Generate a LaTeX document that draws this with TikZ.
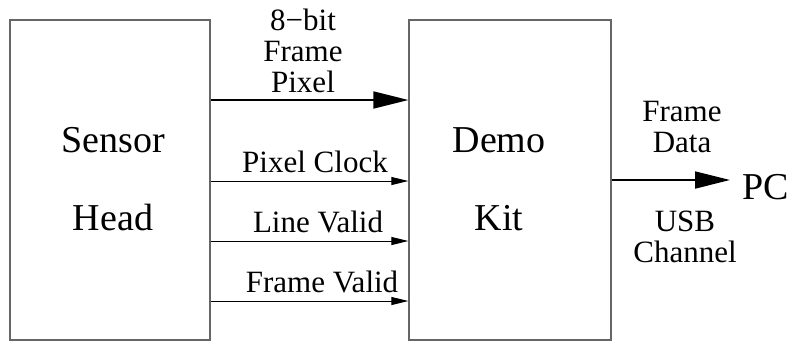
\documentclass[tikz,border=0pt]{standalone}
\usepackage{fontspec}
\setmainfont{Liberation Serif}
\newfontfamily\tms{Liberation Serif}
\usetikzlibrary{arrows.meta}
\begin{document}
\begin{tikzpicture}[x=1pt,y=-1pt,
  box/.style={draw=black!60,line width=1.3pt,minimum width=#1,minimum height=320pt,inner sep=0pt},
  big/.style={font=\tms\fontsize{38}{78}\selectfont,align=center,inner sep=0pt},
  lbl/.style={font=\tms\fontsize{31}{31}\selectfont,align=center,inner sep=0pt},
  bigarrow/.style={line width=1.8pt,-{Triangle[length=35pt,width=17pt]}},
  thinarrow/.style={line width=1pt,-{Triangle[length=17pt,width=8pt]}}]
\useasboundingbox (0,0) rectangle (792,341);
\node[box=200pt] (sensor) at (110,180) {};
\node[box=202pt] (demo) at (510,180) {};
\node[big] (sensortxt) at (113,179) {Sensor\\Head};
\node[big] (demotxt) at (499,179) {Demo\\Kit};
\node[big,anchor=west] (pc) at (742,187) {PC};
% inputs
\draw[bigarrow] (sensor.east |- 0,100) -- (demo.west |- 0,100);
\draw[thinarrow] (sensor.east |- 0,181) -- (demo.west |- 0,181);
\draw[thinarrow] (sensor.east |- 0,241) -- (demo.west |- 0,241);
\draw[thinarrow] (sensor.east |- 0,301) -- (demo.west |- 0,301);
\draw[bigarrow] (demo.east) -- ([xshift=-12pt]pc.west |- demo.east);
% labels
\node[lbl] (l1) at (303,51) {8−bit\\Frame\\Pixel};
\node[lbl] (l2) at (315,162) {Pixel Clock};
\node[lbl] (l3) at (318,222) {Line Valid};
\node[lbl] (l4) at (322,282) {Frame Valid};
\node[lbl] (l5) at (682,127) {Frame\\Data};
\node[lbl] (l6) at (685,237) {USB\\Channel};
\end{tikzpicture}
\end{document}
